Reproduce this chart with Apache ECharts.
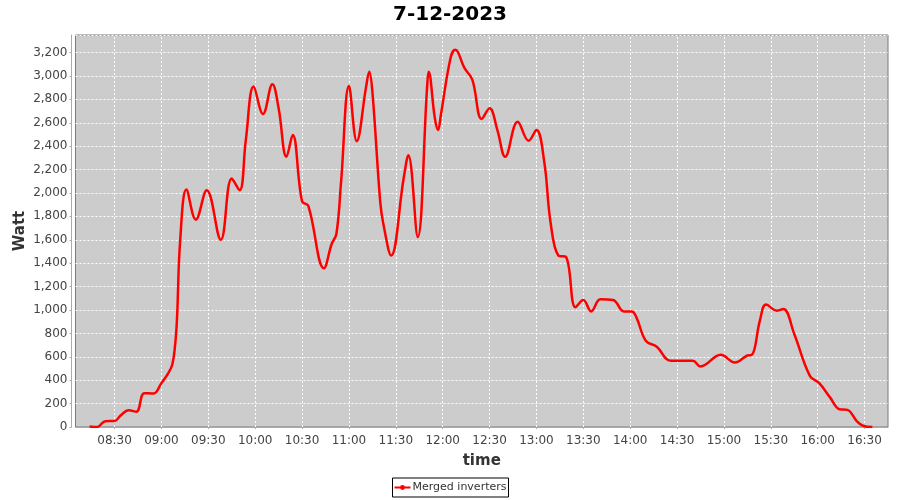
<!DOCTYPE html>
<html>
<head>
<meta charset="utf-8">
<script src="https://cdn.jsdelivr.net/npm/echarts@6/dist/echarts.min.js"></script>
<style>
html, body { margin: 0; padding: 0; background: #fff; }
#chart { width: 900px; height: 500px; }
</style>
</head>
<body>
<div id="chart"></div>
<script>
// power readings of the merged inverters, 12 July 2023
const chartTitle = '7-12-2023';
const seriesName = 'Merged inverters';
const times = ['08:14','08:19','08:24','08:30','08:34','08:39','08:44','08:49','08:55','09:00',
  '09:04','09:07','09:09','09:10','09:12','09:16','09:22','09:29','09:38','09:45',
  '09:50','09:54','09:59','10:05','10:11','10:15','10:20','10:24','10:30','10:34',
  '10:44','10:49','10:52','10:55','11:00','11:05','11:11','11:13','11:15','11:20',
  '11:22','11:27','11:35','11:38','11:44','11:50','11:51','11:55','11:57','11:59',
  '12:05','12:08','12:14','12:19','12:25','12:30','12:35','12:40','12:48','12:55',
  '13:00','13:05','13:09','13:14','13:19','13:25','13:30','13:35','13:41','13:49',
  '13:56','14:01','14:04','14:10','14:17','14:26','14:40','14:45','14:58','15:07',
  '15:15','15:18','15:23','15:27','15:34','15:38','15:45','15:55','16:01','16:08',
  '16:14','16:19','16:25','16:29','16:35'];
const watts = [5,0,50,51,100,143,131,289,286,375,
  452,537,737,937,1594,2029,1772,2023,1600,2123,
  2023,2452,2909,2675,2929,2724,2309,2495,1929,1889,
  1357,1566,1652,2100,2915,2443,2909,3037,2866,1929,
  1738,1466,2123,2323,1623,2900,3037,2638,2538,2681,
  3152,3223,3067,2966,2632,2724,2538,2309,2609,2446,
  2538,2266,1752,1466,1452,1023,1086,988,1091,1086,
  988,988,937,737,686,566,566,517,617,551,
  611,617,909,1046,994,1009,795,437,375,251,
  152,146,51,11,0];
const timeTicks = ['08:30','09:00','09:30','10:00','10:30','11:00','11:30','12:00','12:30',
  '13:00','13:30','14:00','14:30','15:00','15:30','16:00','16:30'];
const xRange = ['08:05', '16:45'];
const yMax = 3350;
const yStep = 200;

// minutes since midnight
function toMin(hm) {
  const p = hm.split(':').map(Number);
  return p[0] * 60 + p[1];
}
function pad(n) { return (n < 10 ? '0' : '') + n; }
function fmtMin(v) { return pad(Math.floor(v / 60)) + ':' + pad(v % 60); }

const tickValues = timeTicks.map(toMin);
const gridLine = { color: '#ffffff', width: 1, type: [2, 2] };

let chart = echarts.init(document.getElementById('chart'));
let option = {
  backgroundColor: '#ffffff',
  animation: false,
  textStyle: { fontFamily: 'DejaVu Sans' },
  title: {
    text: chartTitle,
    left: 'center',
    top: 0,
    textStyle: { fontSize: 20, fontWeight: 'bold', color: '#000' }
  },
  grid: {
    left: 75.5, right: 12, top: 35, bottom: 73,
    show: true,
    backgroundColor: '#cccccc',
    borderColor: '#7a7a7a',
    borderWidth: 1
  },
  legend: {
    bottom: 3,
    left: 'center',
    data: [seriesName],
    borderColor: '#000',
    borderWidth: 1,
    borderRadius: 0,
    padding: [4, 2, 4, 1],
    itemWidth: 16,
    itemGap: 2,
    itemHeight: 6,
    textStyle: { fontSize: 11, color: '#333', padding: [0, 0, 0, -3] }
  },
  xAxis: {
    type: 'value',
    min: toMin(xRange[0]),
    max: toMin(xRange[1]),
    offset: 4,
    name: 'time',
    nameLocation: 'middle',
    nameGap: 23,
    nameTextStyle: { fontSize: 15, fontWeight: 'bold', color: '#333' },
    axisLine: { show: true, lineStyle: { color: '#aaaaaa', width: 1 } },
    axisTick: { show: true, length: 2, customValues: tickValues, lineStyle: { color: '#aaaaaa' } },
    axisLabel: {
      fontSize: 12, color: '#444', margin: 4,
      customValues: tickValues,
      formatter: fmtMin
    },
    splitLine: { show: false }
  },
  yAxis: {
    type: 'value',
    min: 0,
    max: yMax,
    interval: yStep,
    offset: 4,
    name: 'Watt',
    nameLocation: 'middle',
    nameRotate: 90,
    nameGap: 44,
    nameMoveOverlap: false,
    nameTextStyle: { fontSize: 15, fontWeight: 'bold', color: '#333' },
    axisLine: { show: true, lineStyle: { color: '#aaaaaa', width: 1 } },
    axisTick: { show: true, length: 2, lineStyle: { color: '#aaaaaa' } },
    axisLabel: {
      fontSize: 12, color: '#444', margin: 4, showMaxLabel: false,
      formatter: function (v) { return v.toLocaleString('en-US'); }
    },
    splitLine: { show: true, lineStyle: gridLine }
  },
  series: [
    {
      name: seriesName,
      type: 'line',
      smooth: 0.4,
      showSymbol: false,
      symbol: 'circle',
      symbolSize: 3,
      lineStyle: { color: '#ff0000', width: 2.5 },
      itemStyle: { color: '#ff0000' },
      data: times.map((t, i) => [toMin(t), watts[i]]),
      // vertical grid lines at the half-hour labels
      markLine: {
        silent: true,
        symbol: 'none',
        label: { show: false },
        lineStyle: gridLine,
        z: 1,
        data: tickValues.map(v => ({ xAxis: v }))
      }
    }
  ]
};
chart.setOption(option);
</script>
</body>
</html>
